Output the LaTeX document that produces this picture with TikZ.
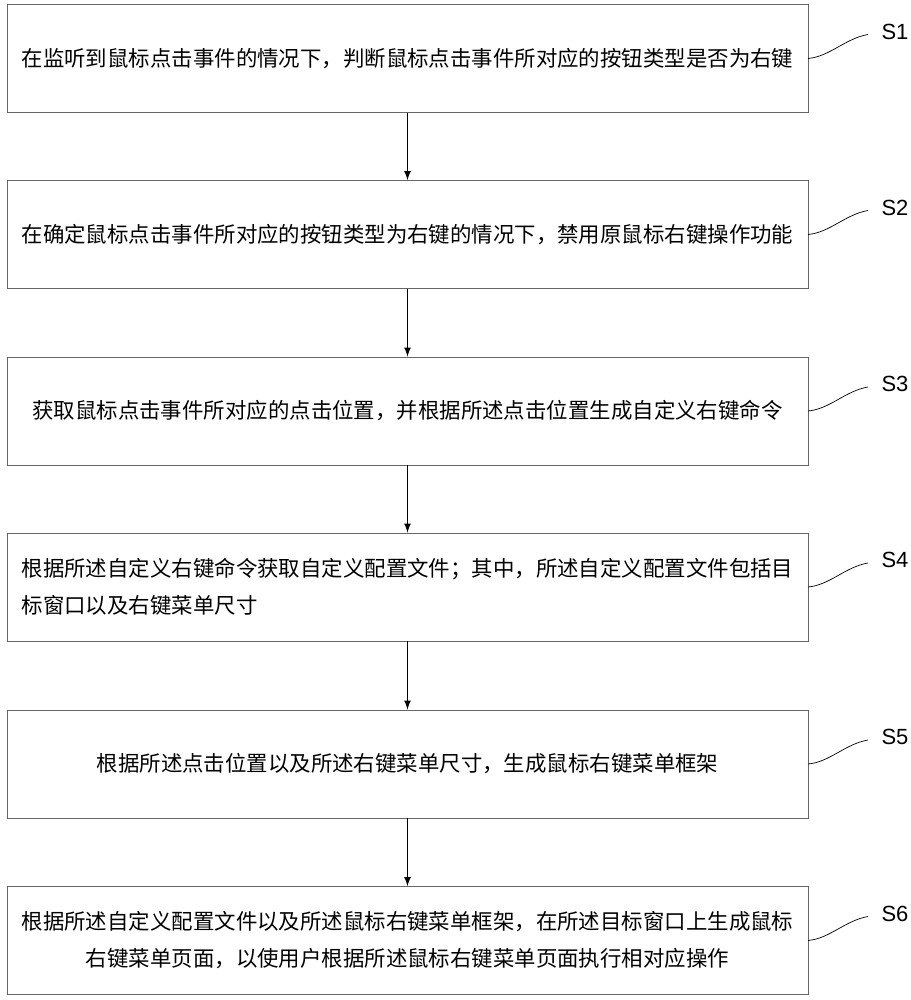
\documentclass[tikz,border=0pt]{standalone}
\usepackage{fontspec}
\newfontfamily\cjk{Noto Sans CJK SC}
\setmainfont{Liberation Sans}
\begin{document}
\begin{tikzpicture}[x=0.02cm,y=-0.02cm]
\footnotesize

\tikzstyle{stepbox} = [draw, black!60, thin, minimum width=16.02cm, minimum height=2.16cm, inner sep=0pt]
\tikzstyle{txt}     = [align=center, font=\cjk\fontsize{12.2}{21}\selectfont]
\tikzstyle{lbl}     = [font=\fontsize{12.5}{14}\selectfont]
\tikzstyle{flow}    = [draw, -latex, thick]

\useasboundingbox (0,0) rectangle (911,1000);

\node [stepbox] (S1box) at (407.5,58.5) {};
\node [stepbox] (S2box) at (407.5,234.5) {};
\node [stepbox] (S3box) at (407.5,411) {};
\node [stepbox] (S4box) at (407.5,587) {};
\node [stepbox] (S5box) at (407.5,764) {};
\node [stepbox] (S6box) at (407.5,940.5) {};

\node [txt] at (S1box) {在监听到鼠标点击事件的情况下，判断鼠标点击事件所对应的按钮类型是否为右键};
\node [txt] at (S2box) {在确定鼠标点击事件所对应的按钮类型为右键的情况下，禁用原鼠标右键操作功能};
\node [txt] at (S3box) {获取鼠标点击事件所对应的点击位置，并根据所述点击位置生成自定义右键命令};
\node [txt, align=left] at (S4box) {根据所述自定义右键命令获取自定义配置文件；其中，所述自定义配置文件包括目\\标窗口以及右键菜单尺寸};
\node [txt] at (S5box) {根据所述点击位置以及所述右键菜单尺寸，生成鼠标右键菜单框架};
\node [txt] at (S6box) {根据所述自定义配置文件以及所述鼠标右键菜单框架，在所述目标窗口上生成鼠标\\右键菜单页面，以使用户根据所述鼠标右键菜单页面执行相对应操作};

\draw [flow] (S1box) -- (S2box);
\draw [flow] (S2box) -- (S3box);
\draw [flow] (S3box) -- (S4box);
\draw [flow] (S4box) -- (S5box);
\draw [flow] (S5box) -- (S6box);

\foreach \s/\y in {1/58.5,2/234.5,3/411,4/587,5/764,6/940.5} {
  \coordinate (L\s) at (808,\y);
  \draw [thin] (L\s) .. controls (830,\y-2) and (845,\y-20) .. (868,\y-24);
  \node [lbl] (S\s) at (895,\y-27) {S\s};
}
\end{tikzpicture}
\end{document}
